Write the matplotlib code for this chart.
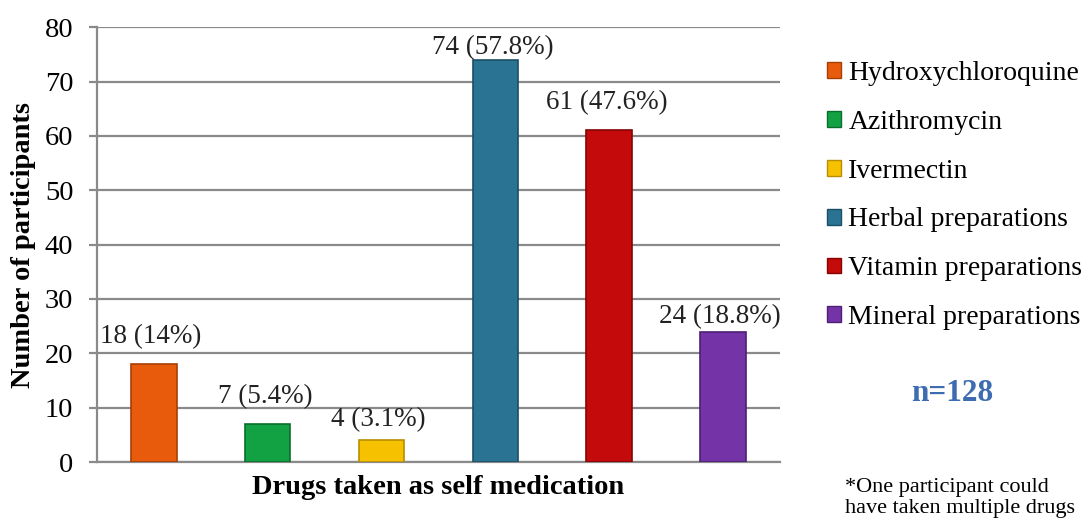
import matplotlib.pyplot as plt
import numpy as np
from matplotlib.patches import Patch

# data
drugs = ["Hydroxychloroquine", "Azithromycin", "Ivermectin",
         "Herbal preparations", "Vitamin preparations", "Mineral preparations"]
counts = [18, 7, 4, 74, 61, 24]
percents = ["14%", "5.4%", "3.1%", "57.8%", "47.6%", "18.8%"]
colors = ["#E95B0C", "#12A244", "#F6C200", "#2A7393", "#C40A0A", "#7434A8"]
edges = ["#A63F05", "#0A6E2C", "#B88E00", "#1B4F66", "#850404", "#4E1F75"]
# gap between bar top and its label (points), placed by hand in the original
label_gap = [11, 11, 6, 0, 11, 2]

plt.rcParams["font.family"] = ["Liberation Serif", "DejaVu Serif"]

fig = plt.figure(figsize=(10.87, 5.23), dpi=100)
ax = fig.add_axes([0.0892, 0.1166, 0.6284, 0.8314])

x = np.arange(len(drugs))
bars = ax.bar(x, counts, width=0.4, color=colors, edgecolor=edges,
              linewidth=1.2, zorder=3)

# value labels above the bars
for xi, c, p, g in zip(x, counts, percents, label_gap):
    ax.annotate(f"{c} ({p})", (xi, c), xytext=(-2, g),
                textcoords="offset points", ha="center", va="bottom",
                fontsize=19.5, color="#222222", annotation_clip=False)

ax.set_xlim(-0.5, 5.5)
ax.set_ylim(0, 80)
ax.set_yticks(range(0, 81, 10))
ax.set_xticks([])
ax.yaxis.grid(True, color="#8a8a8a", linewidth=1.6, zorder=0)
ax.tick_params(axis="y", length=6, width=1.6, color="#8a8a8a",
               labelsize=20.5, pad=11)
for s in ["top", "right"]:
    ax.spines[s].set_visible(False)
for s in ["left", "bottom"]:
    ax.spines[s].set_color("#8a8a8a")
    ax.spines[s].set_linewidth(1.6)

ax.set_ylabel("Number of participants", fontsize=20.5, fontweight="bold",
              labelpad=6)
ax.set_xlabel("Drugs taken as self medication", fontsize=20.5,
              fontweight="bold", labelpad=9)

handles = [Patch(facecolor=c, edgecolor=e, linewidth=1) for c, e in zip(colors, edges)]
fig.legend(handles, drugs, loc="upper left", bbox_to_anchor=(0.751, 0.905),
           frameon=False, fontsize=20, handlelength=0.5, handleheight=0.5,
           handletextpad=0.25, labelspacing=0.86, borderaxespad=0)

fig.text(0.876, 0.247, "n=128", ha="center", va="center", fontsize=22.5,
         fontweight="bold", color="#3D6DB0")
fig.text(0.777, 0.047, "*One participant could\nhave taken multiple drugs",
         ha="left", va="center", fontsize=16, linespacing=1.15)

fig.savefig("out.png", dpi=100)
